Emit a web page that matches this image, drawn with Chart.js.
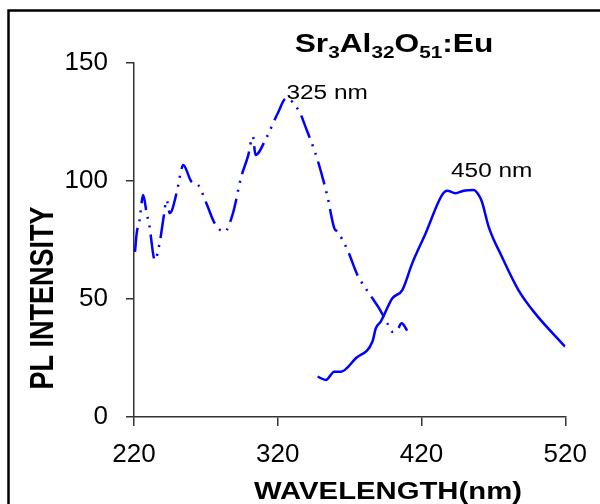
<!DOCTYPE html>
<html>
<head>
<meta charset="utf-8">
<script src="https://cdn.jsdelivr.net/npm/chart.js@4.4.1/dist/chart.umd.min.js"></script>
<style>
    html, body { margin: 0; padding: 0; background: #fff; }
    #wrap { width: 600px; height: 504px; }
</style>
</head>
<body>
<div id="wrap"><canvas id="plChart" width="600" height="504"></canvas></div>
<script>
// excitation spectrum (monitored at 450 nm)
const exWave  = [220.7, 221.9, 223.7, 226.4, 228.8, 230.6, 234.5, 238.0, 240.3, 242.7, 244.9, 249.6, 252.4, 254.2,
                 260.0, 264.6, 270.4, 276.1, 283.0, 288.8, 294.6, 299.2, 302.7, 304.5, 311.9, 320.0, 325.8,
                 335.0, 339.7, 345.4, 347.7, 354.6, 359.3, 361.6, 368.5, 375.4, 383.5, 390.4, 396.2, 399.7,
                 403.1, 406.2, 410.0];
const exValue = [70.0, 78.0, 82.8, 94.1, 86.3, 81.4, 66.5, 74.3, 83.5, 91.9, 86.4, 94.9, 103.3, 106.8,
                 99.7, 98.3, 90.5, 82.1, 78.5, 86.3, 101.8, 110.3, 118.8, 111.0, 118.1, 128.7, 135.0,
                 129.4, 122.3, 113.1, 108.9, 93.3, 80.0, 78.5, 70.8, 60.2, 52.4, 46.1, 39.7, 36.1,
                 36.9, 39.7, 36.6];

// emission spectrum (excited at 325 nm)
const emWave  = [347.7, 353.5, 359.3, 363.9, 374.3, 385.8, 388.2, 391.6, 399.7, 406.6, 413.5, 422.8,
                 434.3, 437.8, 443.6, 449.3, 456.3, 459.7, 462.0, 466.7, 475.9, 487.4, 499.0, 519.8];
const emValue = [17.1, 15.7, 19.2, 19.2, 24.9, 31.9, 37.6, 40.4, 50.3, 53.8, 65.1, 77.8,
                 94.1, 95.9, 94.8, 95.9, 96.2, 94.1, 91.2, 80.6, 67.9, 53.8, 43.9, 29.8];

const xTicks = [220, 320, 420, 520];
const yTicks = [0, 50, 100, 150];

const peakLabels = ['325 nm', '450 nm'];
const peakWave   = [326, 440.5];
const peakValue  = [137, 104];

const SX = 1.22; // the source picture is stretched sideways

function toPoints(xs, ys) {
    return xs.map((x, i) => ({ x: x, y: ys[i] }));
}

function stretchedText(ctx, text, x, y) {
    ctx.save();
    ctx.translate(x, y);
    ctx.scale(SX, 1);
    ctx.fillText(text, 0, 0);
    ctx.restore();
}

const textPlugin = {
    id: 'plText',
    afterDraw(chart) {
        const ctx = chart.ctx;
        const xs = chart.scales.x;
        const ys = chart.scales.y;

        // frame
        ctx.save();
        ctx.strokeStyle = '#000';
        ctx.lineWidth = 2.5;
        ctx.beginPath();
        ctx.moveTo(8.5, 504);
        ctx.lineTo(8.5, 10.5);
        ctx.lineTo(600, 10.5);
        ctx.stroke();
        ctx.restore();

        ctx.save();
        ctx.fillStyle = '#000';

        // title with subscripts
        const parts = [['Sr', 0], ['3', 1], ['Al', 0], ['32', 1], ['O', 0], ['51', 1], [':Eu', 0]];
        const mainFont = 'bold 26px "Liberation Sans", Arial, sans-serif';
        const subFont = 'bold 17px "Liberation Sans", Arial, sans-serif';
        let total = 0;
        parts.forEach(p => {
            ctx.font = p[1] ? subFont : mainFont;
            total += ctx.measureText(p[0]).width * SX;
        });
        let cx = 394 - total / 2;
        ctx.textAlign = 'left';
        ctx.textBaseline = 'alphabetic';
        parts.forEach(p => {
            ctx.font = p[1] ? subFont : mainFont;
            stretchedText(ctx, p[0], cx, p[1] ? 58 : 52);
            cx += ctx.measureText(p[0]).width * SX;
        });

        // peak annotations
        ctx.font = '20px "Liberation Sans", Arial, sans-serif';
        ctx.textBaseline = 'middle';
        peakLabels.forEach((t, i) => {
            stretchedText(ctx, t, xs.getPixelForValue(peakWave[i]), ys.getPixelForValue(peakValue[i]));
        });

        // axis titles
        ctx.font = 'bold 24px "Liberation Sans", Arial, sans-serif';
        ctx.textAlign = 'center';
        stretchedText(ctx, 'WAVELENGTH(nm)', 388, 492);

        ctx.font = 'bold 27px "Liberation Sans", Arial, sans-serif';
        ctx.translate(44, 298);
        ctx.scale(SX, 1);
        ctx.rotate(-Math.PI / 2);
        ctx.fillText('PL INTENSITY', 0, 0);
        ctx.restore();
    }
};

const tickFont = { family: '"Liberation Sans", Arial, sans-serif', size: 26, lineHeight: 1.2 };

new Chart(document.getElementById('plChart'), {
    type: 'line',
    data: {
        datasets: [{
            label: 'Excitation',
            data: toPoints(exWave, exValue),
            borderColor: '#0000ff',
            borderWidth: 2.5,
            borderDash: [24, 7, 2, 7, 2, 7],
            pointRadius: 0,
            cubicInterpolationMode: 'monotone',
            fill: false
        }, {
            label: 'Emission',
            data: toPoints(emWave, emValue),
            borderColor: '#0000ff',
            borderWidth: 2.5,
            pointRadius: 0,
            cubicInterpolationMode: 'monotone',
            fill: false
        }]
    },
    options: {
        responsive: false,
        animation: false,
        devicePixelRatio: 1,
        layout: { padding: { top: 63, right: 33, bottom: 0, left: 0 } },
        plugins: {
            legend: { display: false },
            tooltip: { enabled: false }
        },
        scales: {
            x: {
                type: 'linear',
                min: 220,
                max: 520,
                afterBuildTicks: s => { s.ticks = xTicks.map(v => ({ value: v })); },
                afterFit: s => { s.height = 87; },
                ticks: { color: '#000', font: tickFont, padding: 13, maxRotation: 0 },
                grid: { drawOnChartArea: false, drawTicks: true, tickLength: 9, color: '#333', lineWidth: 1.5 },
                border: { display: true, color: '#333', width: 1.5 }
            },
            y: {
                min: 0,
                max: 150,
                afterBuildTicks: s => { s.ticks = yTicks.map(v => ({ value: v })); },
                afterFit: s => { s.width = 134; },
                ticks: { color: '#000', font: tickFont, padding: 18 },
                grid: { drawOnChartArea: false, drawTicks: true, tickLength: 8, color: '#333', lineWidth: 1.5 },
                border: { display: true, color: '#333', width: 1.5 }
            }
        }
    },
    plugins: [textPlugin]
});
</script>
</body>
</html>
